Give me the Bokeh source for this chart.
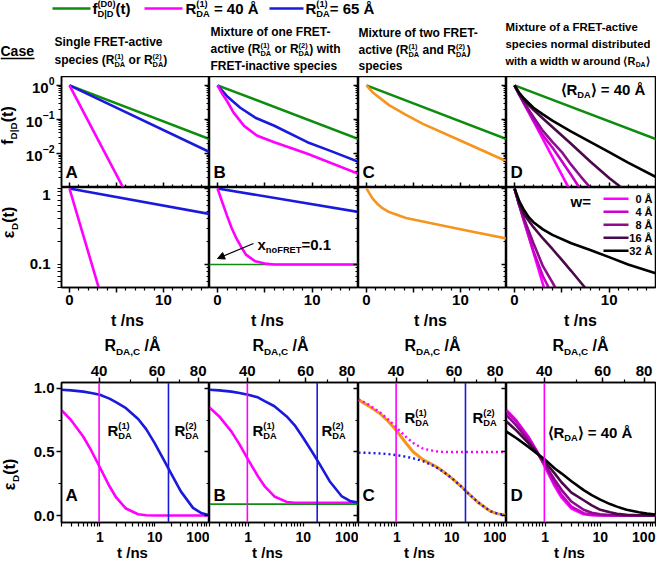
import math
from bokeh.plotting import figure
from bokeh.layouts import column, row
from bokeh.models import (Range1d, Label, LinearAxis, LogAxis, FixedTicker,
                          CustomJSTickFormatter, NumeralTickFormatter, LogTickFormatter,
                          Arrow, NormalHead, Span)
from bokeh.embed import file_html
from bokeh.resources import INLINE

FONT = "Liberation Sans"
GREEN = "#0E8C0E"
MAG = "#FF00FF"
BLUE = "#1A1ADC"
ORANGE = "#F7941D"
W_COLORS = ["#FF00FF", "#CC00CC", "#8E0A8E", "#4A0A4A", "#000000"]
W_LABELS = ["0 Å", "4 Å", "8 Å", "16 Å", "32 Å"]

# ---------------- data ----------------
# Row 1: f_D|D(t), t in ns
F_GREEN_T = [0, 15.0]
F_GREEN = [1.0, 0.026]
FA_BLUE_T = [0, 15.0]
FA_BLUE = [1.0, 0.0107]
FA_MAG_T = [0, 6.0]
FA_MAG = [1.0, 0.0007]
FB_BLUE_T = [0, 1, 2.4, 4, 6, 9.5, 12, 15.1]
FB_BLUE = [1.0, 0.48, 0.22, 0.112, 0.065, 0.0214, 0.0117, 0.0054]
FB_MAG_T = [0, 0.5, 1.0, 1.7, 2.8, 4.2, 6.0, 9.5, 15.1]
FB_MAG = [1.0, 0.56, 0.347, 0.158, 0.0646, 0.0331, 0.0214, 0.0098, 0.0024]
FC_ORA_T = [0, 0.64, 2.4, 4.2, 6.0, 9.5, 14.9]
FC_ORA = [1.0, 0.63, 0.263, 0.135, 0.074, 0.0275, 0.0059]
FD_T = [[0, 6.0],
        [0, 0.5, 1, 2, 3, 4, 5, 6, 7],
        [0, 0.5, 1, 2, 3, 4, 5, 6, 7, 8, 9],
        [0, 0.5, 1, 2, 3, 4, 6, 8, 10, 12],
        [0, 0.5, 1, 2, 3, 4, 6, 8, 10, 12, 15]]
FD_V = [[1.0, 0.0007],
        [1.0, 0.53, 0.29, 0.092, 0.034, 0.015, 0.0059, 0.0023, 0.00086],
        [1.0, 0.53, 0.31, 0.117, 0.046, 0.022, 0.011, 0.0046, 0.0021, 0.001, 0.0004],
        [1.0, 0.55, 0.36, 0.19, 0.106, 0.06, 0.019, 0.0058, 0.0019, 0.0007],
        [1.0, 0.60, 0.41, 0.22, 0.14, 0.092, 0.044, 0.022, 0.011, 0.0054, 0.002]]

# Row 2: eps_D(t)
EA_BLUE_T = [0, 15.0]
EA_BLUE = [1.0, 0.46]
EA_MAG_T = [0, 3.5]
EA_MAG = [1.0, 0.034]
EB_BLUE_T = [0, 15.0]
EB_BLUE = [1.0, 0.49]
EB_MAG_T = [0, 0.5, 1, 1.5, 2, 2.5, 3, 4, 5, 6, 8, 15]
EB_MAG = [1.0, 0.66, 0.44, 0.30, 0.22, 0.17, 0.135, 0.11, 0.103, 0.1, 0.1, 0.1]
EB_GREEN_T = [-1.0, 15.0]
EB_GREEN = [0.1, 0.1]
EC_ORA_T = [0, 0.3, 0.64, 1.2, 1.7, 2.4, 4.2, 7.8, 11.3, 14.9]
EC_ORA = [1.0, 0.87, 0.74, 0.62, 0.55, 0.49, 0.41, 0.33, 0.27, 0.22]
ED_T = [[0, 3.5],
        [0, 0.5, 1, 2, 3, 4],
        [0, 0.5, 1, 2, 3, 4, 5],
        [0, 0.5, 1, 2, 3, 4, 5, 6, 7, 8],
        [0, 0.5, 1, 1.5, 2, 3, 4, 6, 8, 10, 12, 15]]
ED_V = [[1.0, 0.034],
        [1.0, 0.60, 0.37, 0.15, 0.07, 0.04],
        [1.0, 0.60, 0.40, 0.19, 0.095, 0.058, 0.035],
        [1.0, 0.62, 0.46, 0.31, 0.22, 0.16, 0.115, 0.082, 0.058, 0.041],
        [1.0, 0.68, 0.52, 0.42, 0.36, 0.29, 0.245, 0.19, 0.155, 0.125, 0.10, 0.076]]

# Row 3: eps_D(t) on log time axis
TB = [0.2, 0.3, 0.5, 0.7, 1, 1.5, 2, 3, 5, 7, 10, 15, 20, 30, 50, 70, 100]
A3_MAG = [0.83, 0.75, 0.62, 0.51, 0.38, 0.23, 0.14, 0.055, 0.01, 0.002, 0, 0, 0, 0, 0, 0, 0]
A3_BLUE = [0.99, 0.985, 0.975, 0.965, 0.95, 0.92, 0.89, 0.845, 0.76, 0.68, 0.57, 0.43, 0.33, 0.19, 0.06, 0.02, 0.003]
B3_MAG = [0.85, 0.78, 0.66, 0.56, 0.44, 0.31, 0.23, 0.15, 0.107, 0.101, 0.1, 0.1, 0.1, 0.1, 0.1, 0.1, 0.1]
B3_BLUE = [0.99, 0.985, 0.975, 0.965, 0.95, 0.93, 0.90, 0.86, 0.78, 0.71, 0.61, 0.49, 0.40, 0.27, 0.15, 0.115, 0.10]
B3_GREEN_T = [0.2, 100]
B3_GREEN = [0.09, 0.09]
C3_ORA = [0.91, 0.865, 0.80, 0.74, 0.665, 0.565, 0.50, 0.44, 0.39, 0.346, 0.295, 0.228, 0.175, 0.105, 0.035, 0.013, 0.003]
C3_MAG_DOT = [0.915, 0.875, 0.81, 0.755, 0.69, 0.615, 0.57, 0.527, 0.505, 0.501, 0.5, 0.5, 0.5, 0.5, 0.5, 0.5, 0.5]
C3_BLUE_DOT = [0.495, 0.493, 0.488, 0.483, 0.475, 0.462, 0.45, 0.428, 0.385, 0.345, 0.295, 0.228, 0.175, 0.105, 0.035, 0.013, 0.003]
D3_V = [[0.83, 0.75, 0.62, 0.51, 0.38, 0.23, 0.14, 0.055, 0.01, 0.002, 0, 0, 0, 0, 0, 0, 0],
        [0.82, 0.74, 0.61, 0.51, 0.39, 0.25, 0.16, 0.07, 0.018, 0.006, 0.002, 0, 0, 0, 0, 0, 0],
        [0.79, 0.71, 0.59, 0.50, 0.40, 0.28, 0.20, 0.11, 0.045, 0.022, 0.01, 0.004, 0.002, 0, 0, 0, 0],
        [0.74, 0.67, 0.57, 0.50, 0.42, 0.33, 0.26, 0.18, 0.12, 0.08, 0.045, 0.025, 0.013, 0.005, 0.002, 0.001, 0],
        [0.66, 0.61, 0.54, 0.49, 0.44, 0.37, 0.33, 0.27, 0.20, 0.16, 0.125, 0.09, 0.07, 0.045, 0.025, 0.015, 0.008]]

T40 = 0.97            # ns at which R_DA,C = 40 Å (top axis)
R_TICKS = [40, 60, 80]
R_MINOR = [50, 70]
R_LINES = [40, 65]
T_TICKS3 = [1, 10, 100]
E_TICKS2 = [0.1, 1]


def t_of_R(R):
    return T40 * (R / 40.0) ** 6


# ---------------- text helpers ----------------
_REG = {' ': 278, '(': 333, ')': 333, ',': 278, '-': 333, '.': 278, '/': 278, '=': 584, '|': 260,
        'A': 667, 'B': 667, 'C': 722, 'D': 722, 'E': 667, 'F': 611, 'M': 833, 'N': 722, 'O': 778,
        'R': 722, 'S': 667, 'T': 611, 'a': 556, 'b': 556, 'c': 500, 'd': 556, 'e': 556, 'f': 278,
        'g': 556, 'h': 556, 'i': 222, 'l': 222, 'm': 833, 'n': 556, 'o': 556, 'p': 556, 'r': 333,
        's': 500, 't': 278, 'u': 556, 'v': 500, 'w': 722, 'x': 500, 'y': 500, 'Å': 667,
        '⟨': 390, '⟩': 390, 'ε': 500}
_BOLD = {' ': 278, '(': 333, ')': 333, ',': 278, '-': 333, '.': 278, '/': 278, '=': 584, '|': 280,
         'A': 722, 'B': 722, 'C': 722, 'D': 722, 'E': 667, 'F': 611, 'M': 833, 'N': 722, 'O': 778,
         'R': 722, 'S': 667, 'T': 611, 'a': 556, 'b': 611, 'c': 556, 'd': 611, 'e': 556, 'f': 333,
         'g': 611, 'h': 611, 'i': 278, 'l': 278, 'm': 889, 'n': 611, 'o': 611, 'p': 611, 'r': 389,
         's': 556, 't': 333, 'u': 611, 'v': 556, 'w': 778, 'x': 556, 'y': 556, 'Å': 722,
         '⟨': 390, '⟩': 390, 'ε': 520}
BASE_FIX = 0.33   # observed baseline drop of Label text, in em


def tw(s, size, bold):
    tab = _BOLD if bold else _REG
    return sum(tab.get(c, 556) for c in s) * size / 1000.0


def rich(p, x, y, segs, size, bold=True, color="black", align="left", angle=0.0):
    sc = 0.62
    items = []
    cur = 0.0

    def put(txt, up, fs):
        lead = len(txt) - len(txt.lstrip(" "))
        body = txt.strip(" ")
        if body:
            items.append((cur + tw(" " * lead, fs, bold), up, body, fs))
        return tw(txt, fs, bold)

    for s in segs:
        k = s[0]
        if k == "n":
            cur += put(s[1], 0.0, size)
        elif k == "sub":
            cur += put(s[1], -0.24 * size, size * sc)
        elif k == "sup":
            cur += put(s[1], 0.42 * size, size * sc)
        elif k == "ss":
            w1 = put(s[1], 0.42 * size, size * sc)
            w2 = put(s[2], -0.26 * size, size * sc)
            cur += max(w1, w2)
    start = {"left": 0.0, "center": -cur / 2.0, "right": -cur}[align]
    for a, u, t, fs in items:
        u = u + BASE_FIX * fs
        if angle == 0.0:
            dx, dy = start + a, u
        else:
            dx, dy = -u, start + a
        p.add_layout(Label(x=x, y=y, x_offset=dx, y_offset=dy, text=t, text_font=FONT,
                           text_font_size="%.1fpx" % fs,
                           text_font_style="bold" if bold else "normal",
                           text_color=color, text_align="left", text_baseline="alphabetic",
                           angle=angle))


def p2d(info, px, py):
    l, t, r, b = info["box"]
    x0, x1 = info["xr"]
    y0, y1 = info["yr"]
    fx = (px - l) / (r - l)
    fy = (b - py) / (b - t)
    if info["logx"]:
        x = 10 ** (math.log10(x0) + fx * (math.log10(x1) - math.log10(x0)))
    else:
        x = x0 + fx * (x1 - x0)
    if info["logy"]:
        y = 10 ** (math.log10(y0) + fy * (math.log10(y1) - math.log10(y0)))
    else:
        y = y0 + fy * (y1 - y0)
    return x, y


def rtext(p, info, px, py, segs, size, **kw):
    x, y = p2d(info, px, py)
    rich(p, x, y, segs, size, **kw)


def canvas_fig(w, h, x0, x1, y0, y1):
    """A plain figure whose data units are the reference picture's pixels."""
    f = figure(width=w, height=h, x_range=Range1d(x0, x1), y_range=Range1d(y1, y0),
               x_axis_location=None, y_axis_location=None, toolbar_location=None,
               output_backend="svg", min_border=0)
    f.grid.visible = False
    f.outline_line_color = None
    return f


# ---------------- axes helpers ----------------
EMPTY = CustomJSTickFormatter(code="return '';")


def style(ax, labels, inward, size=15, tick=5):
    ax.axis_line_width = 1.5
    ax.axis_line_color = "black"
    ax.major_tick_line_width = 1.5
    ax.minor_tick_line_width = 1.2
    if inward:
        ax.major_tick_in, ax.major_tick_out, ax.minor_tick_in, ax.minor_tick_out = tick, 0, 3, 0
    else:
        ax.major_tick_in, ax.major_tick_out, ax.minor_tick_in, ax.minor_tick_out = 0, tick, 0, 3
    ax.major_label_text_font = FONT
    ax.major_label_text_font_style = "bold"
    ax.major_label_text_color = "black"
    if labels:
        ax.major_label_text_font_size = "%dpx" % size
        ax.major_label_standoff = 2
    else:
        ax.formatter = EMPTY
        ax.major_label_text_font_size = "1px"
        ax.major_label_standoff = 0


def add_axis(p, side, log, ticks, minor, labels, inward, fmt=None, size=15, tick=5):
    cls = LogAxis if log else LinearAxis
    ax = cls(ticker=FixedTicker(ticks=ticks, minor_ticks=minor))
    if fmt is not None:
        ax.formatter = fmt
    style(ax, labels, inward, size, tick)
    p.add_layout(ax, side)
    return ax


COLS = [(69, 217), (217, 366), (366, 514), (514, 663)]
LOGMIN_F = [k * 10.0 ** e for e in (-3, -2, -1) for k in range(2, 10)]
LOGMIN_E = [0.05 + 0.01 * k for k in range(5)] + [0.1 * k for k in range(2, 10)]
LIN_MIN_T = [k for k in range(1, 15) if k not in (5, 10)]
LOGMIN_T = [k * 10.0 ** e for e in (-1, 0, 1) for k in range(2, 10)]


def make_panel(ci, box_y, xr, yr, logx, logy, fh, bt, bb):
    l, r = COLS[ci]
    fw = r - l
    bl = 41 if ci == 0 else 0
    br = 1 if ci == 3 else 0
    p = figure(frame_width=fw, frame_height=fh, x_range=Range1d(*xr), y_range=Range1d(*yr),
               x_axis_type="log" if logx else "linear", y_axis_type="log" if logy else "linear",
               x_axis_location=None, y_axis_location=None, toolbar_location=None,
               output_backend="svg", min_border_left=bl, min_border_right=br,
               min_border_top=bt, min_border_bottom=bb)
    p.grid.visible = False
    p.outline_line_color = "black"
    p.outline_line_width = 1.5
    p.background_fill_color = "white"
    p.border_fill_color = "white"
    info = {"box": (l, box_y[0], r, box_y[1]), "xr": xr, "yr": yr, "logx": logx, "logy": logy}
    return p, info


LW = 2.6
LETTERS = ["A", "B", "C", "D"]

# ---------------- header ----------------
hdr = canvas_fig(656, 76, 8, 664, 8, 84)
LEG_Y = 16
for (x0, x1), c in zip([(60, 98), (152, 190), (277, 311)], [GREEN, MAG, BLUE]):
    hdr.line([x0, x1], [LEG_Y, LEG_Y], line_color=c, line_width=2.6)
rich(hdr, 100, LEG_Y + 5, [("n", "f"), ("ss", "(D0)", "D|D"), ("n", "(t)")], 15)
rich(hdr, 193, LEG_Y + 5, [("n", "R"), ("ss", "(1)", "DA"), ("n", " = 40 Å")], 15)
rich(hdr, 313, LEG_Y + 5, [("n", "R"), ("ss", "(1)", "DA"), ("n", "= 65 Å")], 15)
rich(hdr, 8, 63, [("n", "Case")], 14)
hdr.line([8, 42], [66, 66], line_color="black", line_width=1.3)
HS = 12
rich(hdr, 62, 53, [("n", "Single FRET-active")], HS)
rich(hdr, 62, 71, [("n", "species (R"), ("ss", "(1)", "DA"), ("n", " or R"), ("ss", "(2)", "DA"), ("n", ")")], HS)
rich(hdr, 218, 43, [("n", "Mixture of one FRET-")], HS)
rich(hdr, 218, 60, [("n", "active (R"), ("ss", "(1)", "DA"), ("n", " or R"), ("ss", "(2)", "DA"), ("n", ") with")], HS)
rich(hdr, 218, 77, [("n", "FRET-inactive species")], HS)
rich(hdr, 366, 44, [("n", "Mixture of two FRET-")], HS)
rich(hdr, 366, 61, [("n", "active (R"), ("ss", "(1)", "DA"), ("n", " and R"), ("ss", "(2)", "DA"), ("n", ")")], HS)
rich(hdr, 366, 77, [("n", "species")], HS)
HD = 11.4
rich(hdr, 513, 38, [("n", "Mixture of a FRET-active")], HD)
rich(hdr, 513, 55, [("n", "species normal distributed")], HD)
rich(hdr, 513, 72, [("n", "with a width w around ⟨R"), ("sub", "DA"), ("n", "⟩")], 11.0)

# ---------------- left strip with the y-axis titles ----------------
left = canvas_fig(20, 484, 8, 28, 84, 568)
rich(left, 20, 133, [("n", "f"), ("sub", "D|D"), ("n", "(t)")], 16, align="center", angle=math.pi / 2)
rich(left, 21, 230, [("n", "ε"), ("sub", "D"), ("n", "(t)")], 16, align="center", angle=math.pi / 2)
rich(left, 22, 482, [("n", "ε"), ("sub", "D"), ("n", "(t)")], 16, align="center", angle=math.pi / 2)

# ---------------- row 1 : f_D|D(t) ----------------
XR1 = (-0.85, 14.9)
YR1 = (1e-3, 1.82)
row1 = []
for ci in range(4):
    p, info = make_panel(ci, (84, 196), XR1, YR1, False, True, 111, 0, 0)
    if ci == 0:
        add_axis(p, "left", True, [1, 0.1, 0.01], LOGMIN_F, True, False, LogTickFormatter())
    if ci < 3:
        add_axis(p, "right", True, [1, 0.1, 0.01], LOGMIN_F, False, True)
    add_axis(p, "below", False, [0, 5, 10], LIN_MIN_T, False, True)
    if ci == 0:
        p.line(F_GREEN_T, F_GREEN, line_color=GREEN, line_width=LW)
        p.line(FA_BLUE_T, FA_BLUE, line_color=BLUE, line_width=LW)
        p.line(FA_MAG_T, FA_MAG, line_color=MAG, line_width=LW)
    elif ci == 1:
        p.line(F_GREEN_T, F_GREEN, line_color=GREEN, line_width=LW)
        p.line(FB_BLUE_T, FB_BLUE, line_color=BLUE, line_width=LW)
        p.line(FB_MAG_T, FB_MAG, line_color=MAG, line_width=LW)
    elif ci == 2:
        p.line(F_GREEN_T, F_GREEN, line_color=GREEN, line_width=LW)
        p.line(FC_ORA_T, FC_ORA, line_color=ORANGE, line_width=LW)
    else:
        p.line(F_GREEN_T, F_GREEN, line_color=GREEN, line_width=LW)
        for tt, vv, cc in zip(FD_T, FD_V, W_COLORS):
            p.line(tt, vv, line_color=cc, line_width=LW)
        rtext(p, info, 568, 102, [("n", "⟨R"), ("sub", "DA"), ("n", "⟩ = 40 Å")], 15)
    rtext(p, info, COLS[ci][0] + 4, 187, [("n", LETTERS[ci])], 17)
    row1.append(p)

# ---------------- row 2 : eps_D(t) ----------------
YR2 = (0.0498, 1.031)
fmt_t = CustomJSTickFormatter(code="return (tick == 5) ? '' : tick.toString();")
# the "1" label sits at the very top edge of this panel: as in the reference it is
# drawn a few pixels below its tick (label tick moved down, tick marks drawn as minor ticks)
E_LAB2 = [E_TICKS2[0], E_TICKS2[1] * 10 ** (-6.0 / 76.0)]
fmt_e = CustomJSTickFormatter(code="return (tick > 0.5) ? '1' : tick.toString();")
row2 = []
for ci in range(4):
    p, info = make_panel(ci, (196, 296), XR1, YR2, False, True, 100, 0, 25)
    if ci == 0:
        axl = add_axis(p, "left", True, E_LAB2, LOGMIN_E + E_TICKS2, True, False, fmt_e)
        axl.major_tick_out = 0
        axl.minor_tick_out = 4
        axl.major_label_standoff = 7
    if ci < 3:
        add_axis(p, "right", True, E_TICKS2, LOGMIN_E, False, True)
    add_axis(p, "below", False, [0, 5, 10], LIN_MIN_T, True, False, fmt_t)
    if ci == 0:
        p.line(EA_BLUE_T, EA_BLUE, line_color=BLUE, line_width=LW)
        p.line(EA_MAG_T, EA_MAG, line_color=MAG, line_width=LW)
    elif ci == 1:
        p.line(EB_GREEN_T, EB_GREEN, line_color=GREEN, line_width=1.6)
        p.line(EB_BLUE_T, EB_BLUE, line_color=BLUE, line_width=LW)
        p.line(EB_MAG_T, EB_MAG, line_color=MAG, line_width=LW)
        rtext(p, info, 265, 258, [("n", "x"), ("sub", "noFRET"), ("n", "=0.1")], 15)
        xs, ys = p2d(info, 261, 252)
        xe, ye = p2d(info, 225, 267)
        p.add_layout(Arrow(end=NormalHead(size=7, fill_color="black", line_color="black"),
                           x_start=xs, y_start=ys, x_end=xe, y_end=ye,
                           line_color="black", line_width=1.2))
    elif ci == 2:
        p.line(EC_ORA_T, EC_ORA, line_color=ORANGE, line_width=LW)
    else:
        for tt, vv, cc in zip(ED_T, ED_V, W_COLORS):
            p.line(tt, vv, line_color=cc, line_width=LW)
        rtext(p, info, 578, 215, [("n", "w=")], 15)
        for k, (cc, lab) in enumerate(zip(W_COLORS, W_LABELS)):
            yy = 207.3 + 13 * k
            xa, ya = p2d(info, 611, yy)
            xb, yb = p2d(info, 636, yy)
            p.line([xa, xb], [ya, yb], line_color=cc, line_width=LW)
            rtext(p, info, 660, yy + 4, [("n", lab)], 11, align="right")
    row2.append(p)

# strip below row 2 with the time-axis titles
st2 = canvas_fig(636, 17, 28, 664, 320, 337)
for xc in [135, 275, 438, 588]:
    rich(st2, xc, 333, [("n", "t /ns")], 16, align="center")

# strip above row 3 with the distance-axis titles
stR = canvas_fig(636, 28, 28, 664, 337, 365)
for xc in [140, 288, 440, 588]:
    rich(stR, xc, 358, [("n", "R"), ("sub", "DA,C"), ("n", " /Å")], 16, align="center")

# ---------------- row 3 : eps_D(t) vs log t ----------------
XR3 = (0.2, 100.0)
YR3 = (-0.055, 1.047)
# the "100" label sits flush with the right frame edge, as in the reference:
# its label tick is moved left by half the label width (no tick mark is drawn there)
PX_DEC = 148.0 / math.log10(XR3[1] / XR3[0])
T_LAB3 = T_TICKS3[:2] + [T_TICKS3[2] / 10 ** (0.5 * tw("100", 14, True) / PX_DEC)]
fmt_logt = CustomJSTickFormatter(code="return (tick > 50) ? '100' : tick.toString();")
fmt_R = CustomJSTickFormatter(code="return Math.round(40*Math.pow(tick/%r, 1/6)).toString();" % T40)
row3 = []
for ci in range(4):
    p, info = make_panel(ci, (397, 538), XR3, YR3, True, False, 140, 25, 22)
    if ci == 0:
        add_axis(p, "left", False, [0.0, 0.5, 1.0], [0.25, 0.75], True, False,
                 NumeralTickFormatter(format="0.0"))
    if ci < 3:
        add_axis(p, "right", False, [0.0, 0.5, 1.0], [0.25, 0.75], False, True)
    axb = add_axis(p, "below", True, T_LAB3, LOGMIN_T + T_TICKS3, True, False, fmt_logt, size=14)
    axb.major_tick_out = 0
    axb.minor_tick_out = 4
    axb.major_label_standoff = 5
    add_axis(p, "above", True, [t_of_R(R) for R in R_TICKS], [t_of_R(R) for R in R_MINOR],
             True, False, fmt_R)
    if ci == 0:
        p.add_layout(Span(location=t_of_R(R_LINES[0]), dimension="height", line_color=MAG, line_width=1.6))
        p.add_layout(Span(location=t_of_R(R_LINES[1]), dimension="height", line_color=BLUE, line_width=1.6))
        p.line(TB, A3_MAG, line_color=MAG, line_width=LW)
        p.line(TB, A3_BLUE, line_color=BLUE, line_width=LW)
        rtext(p, info, 115, 450, [("n", "R"), ("ss", "(1)", "DA")], 15)
        rtext(p, info, 182, 450, [("n", "R"), ("ss", "(2)", "DA")], 15)
    elif ci == 1:
        p.add_layout(Span(location=t_of_R(R_LINES[0]), dimension="height", line_color=MAG, line_width=1.6))
        p.add_layout(Span(location=t_of_R(R_LINES[1]), dimension="height", line_color=BLUE, line_width=1.6))
        p.line(B3_GREEN_T, B3_GREEN, line_color=GREEN, line_width=1.6)
        p.line(TB, B3_MAG, line_color=MAG, line_width=LW)
        p.line(TB, B3_BLUE, line_color=BLUE, line_width=LW)
        rtext(p, info, 260, 450, [("n", "R"), ("ss", "(1)", "DA")], 15)
        rtext(p, info, 329, 450, [("n", "R"), ("ss", "(2)", "DA")], 15)
    elif ci == 2:
        p.add_layout(Span(location=t_of_R(R_LINES[0]), dimension="height", line_color=MAG, line_width=1.6))
        p.add_layout(Span(location=t_of_R(R_LINES[1]), dimension="height", line_color=BLUE, line_width=1.6))
        p.line(TB, C3_ORA, line_color=ORANGE, line_width=3.0)
        p.line(TB, C3_MAG_DOT, line_color=MAG, line_width=2.4, line_dash="2 3")
        p.line(TB, C3_BLUE_DOT, line_color=BLUE, line_width=2.4, line_dash="2 3")
        rtext(p, info, 412, 437, [("n", "R"), ("ss", "(1)", "DA")], 15)
        rtext(p, info, 480, 437, [("n", "R"), ("ss", "(2)", "DA")], 15)
    else:
        p.add_layout(Span(location=t_of_R(R_LINES[0]), dimension="height", line_color=MAG, line_width=1.6))
        for vv, cc in zip(D3_V, W_COLORS):
            p.line(TB, vv, line_color=cc, line_width=LW)
        rtext(p, info, 555, 452, [("n", "⟨R"), ("sub", "DA"), ("n", "⟩ = 40 Å")], 15)
    rtext(p, info, COLS[ci][0] + 4, 516, [("n", LETTERS[ci])], 17)
    row3.append(p)

# strip below row 3 with the time-axis titles
st3 = canvas_fig(636, 16, 28, 664, 552, 568)
for xc in [140, 275, 427, 577]:
    rich(st3, xc, 565, [("n", "t /ns")], 15, align="center")

right = column(row(*row1, spacing=0), row(*row2, spacing=0), st2, stR,
               row(*row3, spacing=0), st3, spacing=0)
layout = column(hdr, row(left, right, spacing=0), spacing=0)
open("out.html", "w").write(file_html(layout, INLINE))
